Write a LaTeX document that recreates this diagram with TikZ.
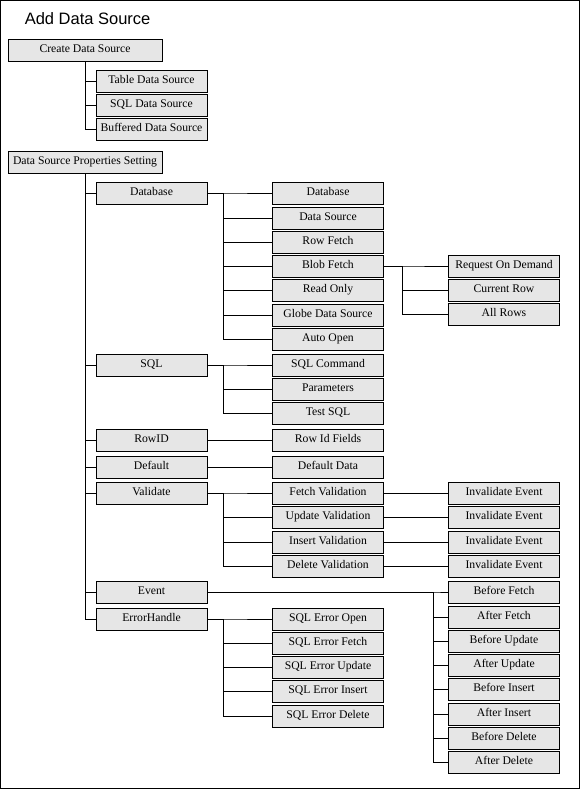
\documentclass[tikz,border=0pt]{standalone}
\usepackage{fontspec}
\setmainfont{Liberation Serif}
\newfontfamily\titlefont{Liberation Sans}
\definecolor{boxgray}{HTML}{E6E6E6}

\begin{document}
\begin{tikzpicture}[x=1pt, y=-1pt, line width=0.9pt,
  box/.style={draw, fill=boxgray, minimum height=22pt, inner sep=1pt,
    text height=1.5ex, text depth=.5ex, font=\fontsize{11.7}{13}\selectfont},
  topbox/.style={box, minimum width=154pt},
  subbox/.style={box, minimum width=111pt}]
  \useasboundingbox (0,0) rectangle (581,789);
  \draw[line width=1pt] (0.5,0.5) rectangle (579,788);
  \node[anchor=west, font=\titlefont\fontsize{16.5}{18}\selectfont] (title) at (21,19) {Add Data Source};

  % create data source
  \node[topbox] (cds) at (85,50) {Create Data Source};
  \foreach \n/\y/\t in {tds/81/Table Data Source, sds/105/SQL Data Source, bds/129/Buffered Data Source}
    \node[subbox] (\n) at (151.5,\y) {\t};
  \foreach \n in {tds,sds,bds}
    \draw (cds.south west) ++(78,0) |- (\n.west);

  % properties setting
  \node[topbox] (dsps) at (85,162.5) {Data Source Properties Setting};
  \foreach \n/\y/\t in {db/193/Database, sql/365/SQL, rowid/440/RowID, dflt/467/Default,
      valid/493/Validate, event/592/Event, errh/619/ErrorHandle}
    \node[subbox] (\n) at (151.5,\y) {\t};
  \foreach \n in {db,sql,rowid,dflt,valid,event,errh}
    \draw (dsps.south west) ++(78,0) |- (\n.west);

  % database
  \foreach \n/\y/\t in {dbname/193/Database, dbsrc/218/Data Source, rowf/242/Row Fetch,
      blob/266/Blob Fetch, rdonly/290/Read Only, globe/315/Globe Data Source, aopen/339/Auto Open}
    \node[subbox] (\n) at (328,\y) {\t};
  \foreach \n in {dbname,dbsrc,rowf,blob,rdonly,globe,aopen}
    \draw (db.east) -- ++(16,0) |- (\n.west);
  \foreach \n/\y/\t in {reqd/266/Request On Demand, currow/290/Current Row, allrows/314/All Rows}
    \node[subbox] (\n) at (504,\y) {\t};
  \foreach \n in {reqd,currow,allrows}
    \draw (blob.east) -- ++(18,0) |- (\n.west);

  % sql
  \foreach \n/\y/\t in {sqlcmd/365/SQL Command, params/389/Parameters, testsql/413/Test SQL}
    \node[subbox] (\n) at (328,\y) {\t};
  \foreach \n in {sqlcmd,params,testsql}
    \draw (sql.east) -- ++(16,0) |- (\n.west);

  % rowid, default
  \node[subbox] (rowidf) at (328,440) {Row Id Fields};
  \node[subbox] (dfltdata) at (328,467) {Default Data};
  \draw (rowid) -- (rowidf);
  \draw (dflt) -- (dfltdata);

  % validate
  \foreach \n/\y/\t in {fval/493/Fetch Validation, uval/517/Update Validation,
      ival/542/Insert Validation, dval/566/Delete Validation}{
    \node[subbox] (\n) at (328,\y) {\t};
    \node[subbox] (\n inv) at (504,\y) {Invalidate Event};
    \draw (valid.east) -- ++(16,0) |- (\n.west);
    \draw (\n) -- (\n inv);
  }

  % event
  \foreach \n/\y/\t in {bfetch/592/Before Fetch, afetch/617/After Fetch, bupd/641/Before Update,
      aupd/665/After Update, bins/689/Before Insert, ains/714/After Insert,
      bdel/738/Before Delete, adel/762/After Delete}
    \node[subbox] (\n) at (504,\y) {\t};
  \foreach \n in {bfetch,afetch,bupd,aupd,bins,ains,bdel,adel}
    \draw (event.east) -- ++(226,0) |- (\n.west);

  % error handle
  \foreach \n/\y/\t in {eopen/619/SQL Error Open, efetch/643/SQL Error Fetch,
      eupd/667/SQL Error Update, eins/691/SQL Error Insert, edel/716/SQL Error Delete}
    \node[subbox] (\n) at (328,\y) {\t};
  \foreach \n in {eopen,efetch,eupd,eins,edel}
    \draw (errh.east) -- ++(16,0) |- (\n.west);
\end{tikzpicture}
\end{document}
